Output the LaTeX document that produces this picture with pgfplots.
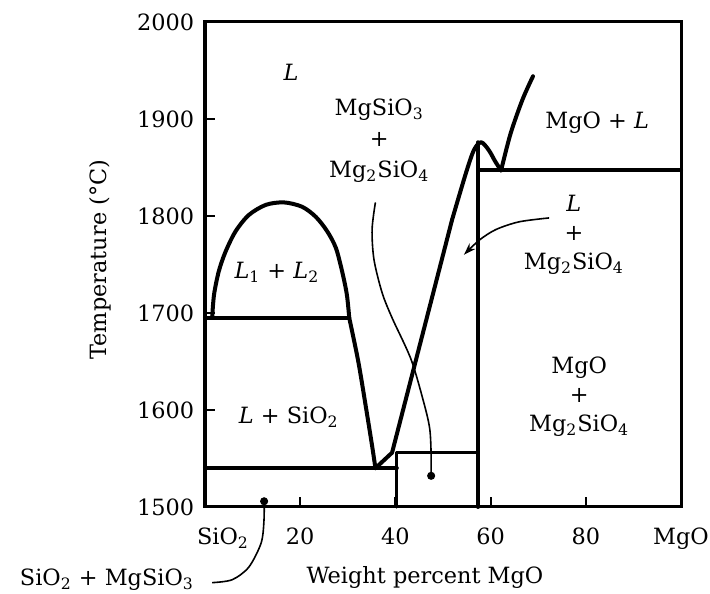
\documentclass[border=0pt]{standalone}
\usepackage{fontspec}
\setmainfont{DejaVu Serif}
\usepackage{pgfplots}
\pgfplotsset{compat=1.18}
\usetikzlibrary{arrows.meta}

\tikzset{
  phase/.style={black, line width=2pt, line join=round, line cap=round},
  pointer/.style={black, line width=0.8pt, smooth},
  lbl/.style={font=\fontsize{11.2}{14.5}\selectfont, align=center},
}

\begin{document}
\fontsize{11.2}{13.5}\selectfont
\begin{tikzpicture}
\begin{axis}[
  name=ax,
  scale only axis,
  width=238pt, height=242.5pt,
  xmin=0, xmax=100, ymin=1500, ymax=2000,
  xtick={0,20,40,60,80,100},
  xticklabels={\hspace*{18pt}SiO\textsubscript{2},20,40,60,80,MgO},
  ytick={1500,1600,1700,1800,1900,2000},
  tick pos=left, tick align=inside,
  major tick length=5pt,
  tick style={line width=1pt, black},
  axis line style={line width=1.5pt},
  /pgf/number format/assume math mode=true,
  yticklabel style={/pgf/number format/1000 sep={}, xshift=-1.5pt},
  xticklabel style={yshift=-6.5pt},
  xlabel={Weight percent MgO},
  ylabel={Temperature (°C)},
  xlabel style={at={(axis description cs:0.462,-0.146)}, anchor=center},
  ylabel style={at={(axis description cs:-0.22,0.51)}, anchor=center},
  clip=false,
]

% miscibility gap
\addplot[phase, smooth] coordinates {
  (1.5,1695)(1.9,1719)(2.9,1743)(4.3,1763)(6.4,1784)(9.2,1801)(12.8,1811.5)
  (16.6,1814)(20.4,1809.5)(23.3,1799)(25.7,1784)(27.5,1767)(28.8,1743)
  (29.8,1719)(30.3,1695)
};
% SiO2 liquidus
\addplot[phase, smooth] coordinates {
  (30.3,1695)(32.2,1650)(33.9,1600)(35.2,1560)(35.8,1540)
};
% forsterite liquidus
\addplot[phase, sharp plot] coordinates {
  (35.8,1540)(39.3,1556)(51.9,1796)
};
\addplot[phase, smooth] coordinates {
  (51.9,1796)(54.8,1844)(56.5,1868)(58,1876)(59.6,1868)(61,1856)(62.2,1847)
};
% periclase liquidus
\addplot[phase, smooth] coordinates {
  (62.2,1847)(64.2,1885)(66.7,1920)(68.9,1944)
};
% invariant lines
\addplot[phase, sharp plot] coordinates {(0,1695)(30.3,1695)};
\addplot[phase, sharp plot] coordinates {(0,1540)(40.3,1540)};
\addplot[phase, line width=1.6pt, sharp plot] coordinates {(40.3,1500)(40.3,1556)(57.4,1556)};
\addplot[phase, sharp plot] coordinates {(57.4,1500)(57.4,1876)};
\addplot[phase, sharp plot] coordinates {(57.4,1847)(100,1847)};

% pointers
\addplot[pointer, -{Circle[length=4pt]}] coordinates {
  (35.8,1814)(35.1,1786)(35.5,1755)(37.2,1721)(39.3,1695)(43.3,1652)
  (46,1607)(47.2,1581)(47.5,1555)(47.5,1528)
};
\addplot[pointer, -{Stealth[length=6pt,width=4pt]}] coordinates {
  (72.3,1798)(66,1794)(61.1,1786)(57.6,1775)(54.4,1760)
};
\addplot[pointer, -{Circle[length=4pt]}] coordinates {
  (1.5,1422)(5.7,1425)(9.2,1438)(11.8,1463)(12.4,1487)(12.4,1510)
};

% field labels
\node[lbl] at (axis cs:18.1,1948) {\textit{L}};
\node[lbl, font=\fontsize{11.2}{15.5}\selectfont] at (axis cs:36.6,1878)
  {MgSiO\textsubscript{3}\\+\\Mg\textsubscript{2}SiO\textsubscript{4}};
\node[lbl] at (axis cs:82.4,1896) {MgO + \textit{L}};
\node[lbl] at (axis cs:15.1,1742) {\textit{L}\textsubscript{1} + \textit{L}\textsubscript{2}};
\node[lbl] at (axis cs:17.6,1593) {\textit{L} + SiO\textsubscript{2}};
\node[lbl] at (axis cs:77.5,1781) {\textit{L}\\+\\Mg\textsubscript{2}SiO\textsubscript{4}};
\node[lbl] at (axis cs:78.6,1614) {MgO\\+\\Mg\textsubscript{2}SiO\textsubscript{4}};
\node[lbl] at (axis cs:-20.6,1425) {SiO\textsubscript{2} + MgSiO\textsubscript{3}};
\end{axis}
\pgfresetboundingbox
\path[use as bounding box] ([xshift=-102.5pt,yshift=-43.5pt]ax.south west)
  rectangle ([xshift=14.5pt,yshift=11pt]ax.north east);
\end{tikzpicture}
\end{document}
